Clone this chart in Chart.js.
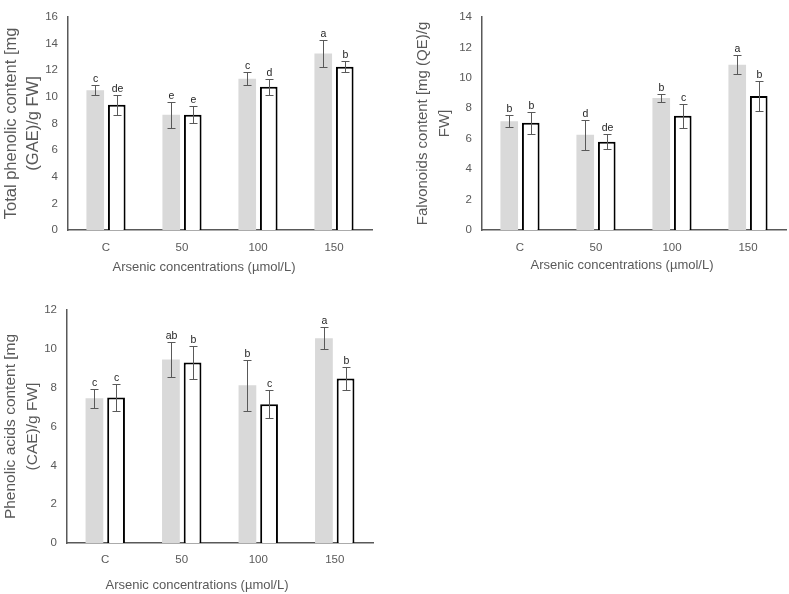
<!DOCTYPE html>
<html><head><meta charset="utf-8">
<script src="https://cdn.jsdelivr.net/npm/chart.js@4.4.1/dist/chart.umd.min.js"></script>
<style>
html,body{margin:0;padding:0;background:#fff;width:789px;height:594px;overflow:hidden;}
.p{position:absolute;}
canvas{display:block;}
</style></head><body>
<div class="p" style="left:0;top:0;"><canvas id="c1" width="380" height="280"></canvas></div>
<div class="p" style="left:400px;top:0;"><canvas id="c2" width="389" height="280"></canvas></div>
<div class="p" style="left:0;top:290px;"><canvas id="c3" width="380" height="304"></canvas></div>
<script>
const categories = ['C', '50', '100', '150'];
const xTitle = 'Arsenic concentrations (\u00b5mol/L)';

// Panel 1: Total phenolic content
const tpGray = [10.5, 8.65, 11.35, 13.25];
const tpGrayErr = [0.35, 0.98, 0.5, 1.0];
const tpGrayLetters = ['c', 'e', 'c', 'a'];
const tpWhite = [9.4, 8.65, 10.75, 12.25];
const tpWhiteErr = [0.73, 0.63, 0.62, 0.42];
const tpWhiteLetters = ['de', 'e', 'd', 'b'];
const tpTitle = ['Total phenolic content [mg', '(GAE)/g FW]'];

// Panel 2: Flavonoids content
const flGray = [7.15, 6.25, 8.68, 10.85];
const flGrayErr = [0.39, 0.99, 0.26, 0.62];
const flGrayLetters = ['b', 'd', 'b', 'a'];
const flWhite = [7.05, 5.8, 7.5, 8.8];
const flWhiteErr = [0.73, 0.51, 0.8, 0.97];
const flWhiteLetters = ['b', 'de', 'c', 'b'];
const flTitle = ['Falvonoids content [mg (QE)/g', 'FW]'];

// Panel 3: Phenolic acids content
const paGray = [7.45, 9.45, 8.12, 10.55];
const paGrayErr = [0.49, 0.9, 1.31, 0.55];
const paGrayLetters = ['c', 'ab', 'b', 'a'];
const paWhite = [7.5, 9.3, 7.15, 8.47];
const paWhiteErr = [0.69, 0.84, 0.71, 0.57];
const paWhiteLetters = ['c', 'b', 'c', 'b'];
const paTitle = ['Phenolic acids content [mg', '(CAE)/g FW]'];

const FONT = '"Liberation Sans", Arial, sans-serif';
const TXT = '#595959';

const errorPlugin = {
  id: 'errs',
  afterDatasetsDraw(chart) {
    const ctx = chart.ctx, ys = chart.scales.y;
    chart.data.datasets.forEach((ds, di) => {
      const meta = chart.getDatasetMeta(di);
      meta.data.forEach((bar, i) => {
        const v = ds.data[i], e = ds.errors[i];
        const x = Math.round(bar.x) + 0.5;
        const yt = Math.round(ys.getPixelForValue(v + e)) + 0.5;
        const yb = Math.round(ys.getPixelForValue(v - e)) + 0.5;
        ctx.save();
        ctx.strokeStyle = '#595959'; ctx.lineWidth = 1;
        ctx.beginPath();
        ctx.moveTo(x, yt); ctx.lineTo(x, yb);
        ctx.moveTo(x - 4, yt); ctx.lineTo(x + 4, yt);
        ctx.moveTo(x - 4, yb); ctx.lineTo(x + 4, yb);
        ctx.stroke();
        ctx.fillStyle = '#262626';
        ctx.font = '10.5px ' + FONT;
        ctx.textAlign = 'center'; ctx.textBaseline = 'bottom';
        ctx.fillText(ds.letters[i], x, yt - 1);
        ctx.restore();
      });
    });
  }
};

const xTitlePlugin = {
  id: 'xTitle',
  afterDraw(chart, args, opts) {
    const ctx = chart.ctx;
    ctx.save();
    ctx.fillStyle = TXT;
    ctx.font = '13px ' + FONT;
    ctx.textAlign = 'center'; ctx.textBaseline = 'middle';
    ctx.fillText(opts.text, chart.chartArea.left + opts.dx, opts.y);
    ctx.restore();
  }
};

function makeChart(id, g, ge, gl, w, we, wl, ymax, ytitle, cfg) {
  return new Chart(document.getElementById(id), {
    type: 'bar',
    data: {
      labels: categories,
      datasets: [
        { data: g, errors: ge, letters: gl, backgroundColor: '#d9d9d9', borderWidth: 0,
          categoryPercentage: 0.566, barPercentage: 0.82 },
        { data: w, errors: we, letters: wl, backgroundColor: '#ffffff', borderColor: '#000000', borderWidth: 2,
          categoryPercentage: 0.566, barPercentage: 0.82 }
      ]
    },
    options: {
      responsive: false, animation: false, devicePixelRatio: 1,
      layout: { padding: cfg.pad },
      plugins: { legend: { display: false }, tooltip: { enabled: false },
        xTitle: { text: xTitle, dx: cfg.xdx, y: cfg.xty } },
      scales: {
        x: {
          grid: { display: false, drawTicks: false },
          border: { display: true, color: '#595959', width: 1.5 },
          ticks: { color: TXT, font: { family: FONT, size: 11.5 }, padding: cfg.xpad },
          afterFit(s) { s.height = cfg.xh; }
        },
        y: {
          min: 0, max: ymax,
          grid: { display: false, drawTicks: false },
          border: { display: true, color: '#595959', width: 1.5 },
          ticks: { stepSize: 2, color: TXT, font: { family: FONT, size: 11.5 }, padding: 10 },
          title: { display: true, text: ytitle, color: TXT,
            font: { family: FONT, size: cfg.yfs, lineHeight: 22 / cfg.yfs }, padding: { top: cfg.ytp, bottom: 0 } },
          afterFit(s) { s.width = cfg.yw; }
        }
      }
    },
    plugins: [errorPlugin, xTitlePlugin]
  });
}

makeChart('c1', tpGray, tpGrayErr, tpGrayLetters, tpWhite, tpWhiteErr, tpWhiteLetters, 16, tpTitle,
  { pad: { top: 6, right: 8, left: 0, bottom: 0 }, xh: 50, yw: 68, ytp: 0, yfs: 16.5, xpad: 11, xdx: 136, xty: 267 });
makeChart('c2', flGray, flGrayErr, flGrayLetters, flWhite, flWhiteErr, flWhiteLetters, 14, flTitle,
  { pad: { top: 6, right: 3, left: 0, bottom: 0 }, xh: 50, yw: 82, ytp: 12, yfs: 15, xpad: 11, xdx: 140, xty: 265 });
makeChart('c3', paGray, paGrayErr, paGrayLetters, paWhite, paWhiteErr, paWhiteLetters, 12, paTitle,
  { pad: { top: 20, right: 7, left: 0, bottom: 0 }, xh: 51, yw: 67, ytp: 0, yfs: 15.5, xpad: 10, xdx: 130, xty: 295 });
</script>
</body></html>
